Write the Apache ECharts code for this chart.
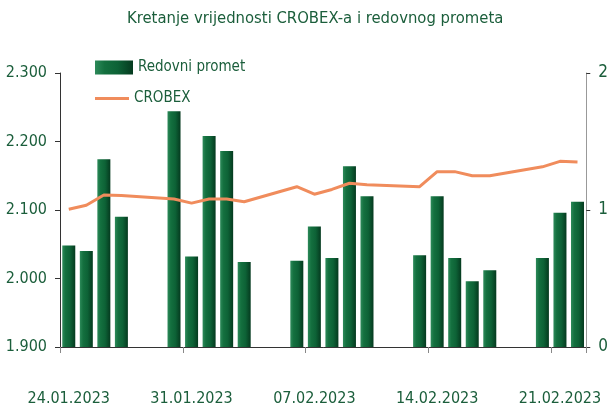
<!DOCTYPE html>
<html>
<head>
<meta charset="utf-8">
<script src="https://cdn.jsdelivr.net/npm/echarts@6/dist/echarts.min.js"></script>
<style>
html,body{margin:0;padding:0;background:#fff;}
#c{width:611px;height:407px;}
</style>
</head>
<body>
<div id="c"></div>
<script>
// Calendar days on the date axis (weekends have no trading data)
var categories = [
  '24.01.2023','25.01.2023','26.01.2023','27.01.2023','28.01.2023','29.01.2023',
  '30.01.2023','31.01.2023','01.02.2023','02.02.2023','03.02.2023','04.02.2023','05.02.2023',
  '06.02.2023','07.02.2023','08.02.2023','09.02.2023','10.02.2023','11.02.2023','12.02.2023',
  '13.02.2023','14.02.2023','15.02.2023','16.02.2023','17.02.2023','18.02.2023','19.02.2023',
  '20.02.2023','21.02.2023','22.02.2023'
];
// Redovni promet (right axis)
var promet = [
  0.74, 0.70, 1.37, 0.95, null, null,
  1.72, 0.66, 1.54, 1.43, 0.62, null, null,
  0.63, 0.88, 0.65, 1.32, 1.10, null, null,
  0.67, 1.10, 0.65, 0.48, 0.56, null, null,
  0.65, 0.98, 1.06
];
// CROBEX (left axis)
var crobex = [
  2101, 2107, 2122, 2121, null, null,
  2116, 2110, 2116, 2116, 2112, null, null,
  2134, 2123, 2130, 2139, 2137, null, null,
  2134, 2156, 2156, 2150, 2150, null, null,
  2163, 2171, 2170
];
var leftTicks = [1900, 2000, 2100, 2200, 2300];

var green = '#1b5e3b';
var fontFam = "'Liberation Sans Narrow','Arial Narrow','DejaVu Sans Condensed',sans-serif";

var chart = echarts.init(document.getElementById('c'), null, {renderer: 'canvas'});
chart.setOption({
  animation: false,
  title: {
    text: 'Kretanje vrijednosti CROBEX-a i redovnog prometa',
    left: 122,
    top: 5,
    textStyle: {color: green, fontFamily: fontFam, fontSize: 16.5, fontWeight: 'normal'}
  },
  legend: [
    {
      orient: 'vertical',
      left: 90,
      top: 55,
      itemWidth: 38,
      itemHeight: 14,
      itemGap: 4,
      textStyle: {color: green, fontFamily: fontFam, fontSize: 15},
      data: [{name: 'Redovni promet', icon: 'rect'}]
    },
    {
      orient: 'vertical',
      left: 90,
      top: 86,
      itemWidth: 34,
      itemHeight: 3,
      itemGap: 4,
      textStyle: {color: green, fontFamily: fontFam, fontSize: 15},
      data: [{name: 'CROBEX', icon: 'rect', itemStyle: {color: '#f08c5c'}}]
    }
  ],
  grid: {left: 60, right: 22, top: 73, bottom: 60, containLabel: false},
  xAxis: {
    type: 'category',
    data: categories,
    boundaryGap: true,
    axisLine: {lineStyle: {color: '#333', width: 1}},
    axisTick: {
      show: true, length: 6, alignWithLabel: false,
      interval: function (i) { return i % 7 === 0; },
      lineStyle: {color: '#888'}
    },
    axisLabel: {
      interval: function (i) { return i % 7 === 0; },
      margin: 44,
      color: green,
      fontFamily: fontFam,
      fontSize: 16
    },
    splitLine: {show: false}
  },
  yAxis: [
    {
      type: 'value',
      min: leftTicks[0], max: leftTicks[leftTicks.length - 1], interval: 100,
      position: 'left',
      axisLine: {show: true, lineStyle: {color: '#333'}},
      axisTick: {show: true, length: 5, lineStyle: {color: '#333'}},
      axisLabel: {
        margin: 13, color: green, fontFamily: fontFam, fontSize: 16,
        formatter: function (v) { return String(v).replace(/(\d)(\d{3})$/, '$1.$2'); }
      },
      splitLine: {show: false}
    },
    {
      type: 'value',
      min: 0, max: 2, interval: 1,
      position: 'right',
      axisLine: {show: true, lineStyle: {color: '#999'}},
      axisTick: {show: true, length: 4, lineStyle: {color: '#333'}},
      axisLabel: {margin: 12, color: green, fontFamily: fontFam, fontSize: 17},
      splitLine: {show: false}
    }
  ],
  series: [
    {
      name: 'Redovni promet',
      type: 'bar',
      yAxisIndex: 1,
      barWidth: 13,
      data: promet,
      itemStyle: {
        color: new echarts.graphic.LinearGradient(0, 0, 1, 0, [
          {offset: 0, color: '#2d8a5a'},
          {offset: 0.25, color: '#14703f'},
          {offset: 0.6, color: '#0d6236'},
          {offset: 1, color: '#053a1f'}
        ])
      }
    },
    {
      name: 'CROBEX',
      type: 'line',
      yAxisIndex: 0,
      data: crobex,
      connectNulls: true,
      showSymbol: false,
      symbol: 'none',
      lineStyle: {color: '#f08c5c', width: 3},
      itemStyle: {color: '#f08c5c'}
    }
  ]
});
</script>
</body>
</html>
